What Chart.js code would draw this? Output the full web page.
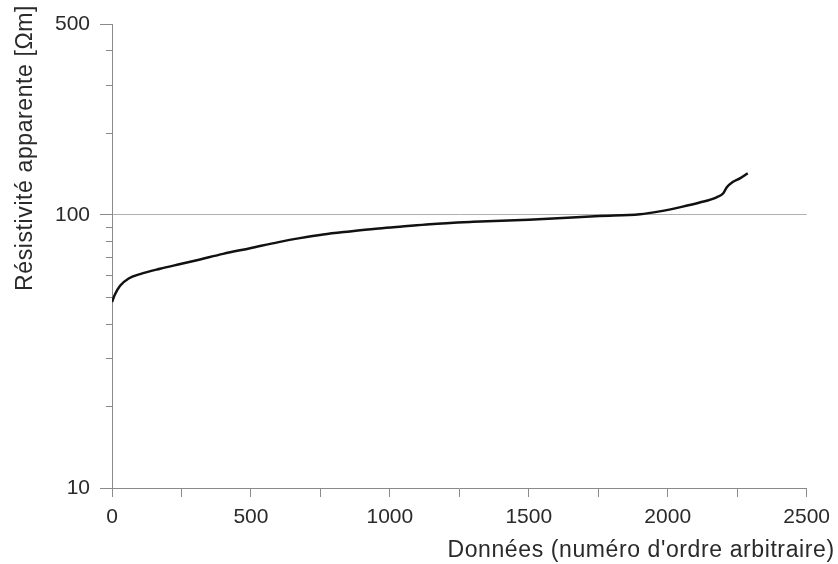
<!DOCTYPE html>
<html>
<head>
<meta charset="utf-8">
<script src="https://cdn.jsdelivr.net/npm/chart.js@4.4.1/dist/chart.umd.min.js"></script>
<style>
  html, body { margin: 0; padding: 0; background: #fff; }
  #wrap { width: 838px; height: 564px; }
</style>
</head>
<body>
<div id="wrap"><canvas id="resChart" width="838" height="564"></canvas></div>
<script>
// data (index, apparent resistivity in ohm-m)
const dataIndex = [0, 10, 29, 60, 101, 173, 250, 317, 400, 497, 600, 676, 760, 856, 950, 1036, 1144, 1300, 1500, 1754, 1900, 1971, 2050, 2115, 2176, 2200, 2212, 2234, 2260, 2288];
const resistivity = [48, 51, 55, 58.5, 60.7, 63.5, 66.2, 68.7, 72, 75.5, 79.5, 82.2, 84.8, 87, 89, 90.5, 92.5, 94.3, 96, 99, 100.5, 103, 107, 111, 116, 120, 126, 132, 136, 142];

const xTicks = [0, 250, 500, 750, 1000, 1250, 1500, 1750, 2000, 2250, 2500];
const xLabels = [0, 500, 1000, 1500, 2000, 2500];
const yTicks = [10, 20, 30, 40, 50, 60, 70, 80, 90, 100, 200, 300, 400, 500];
const yLabels = [10, 100, 500];

const xTitle = "Données (numéro d'ordre arbitraire)";
const yTitle = 'Résistivité apparente [Ωm]';

const fontFamily = "'Liberation Sans', Arial, sans-serif";
const textColor = '#2a2a2a';
const axisColor = '#8a8a8a';

// short minor ticks on the y axis + axis titles
const decorPlugin = {
    id: 'decor',
    afterDraw(chart) {
        const ctx = chart.ctx;
        const y = chart.scales.y;
        const area = chart.chartArea;
        ctx.save();
        ctx.strokeStyle = axisColor;
        ctx.lineWidth = 1;
        yTicks.forEach(v => {
            if (yLabels.includes(v)) return;
            const py = Math.round(y.getPixelForValue(v)) + 0.5;
            ctx.beginPath();
            ctx.moveTo(area.left - 6, py);
            ctx.lineTo(area.left, py);
            ctx.stroke();
        });

        ctx.fillStyle = textColor;
        ctx.font = '23px ' + fontFamily;
        ctx.letterSpacing = '0.6px';
        ctx.textAlign = 'right';
        ctx.textBaseline = 'alphabetic';
        ctx.fillText(xTitle, area.right + 28, 557);

        ctx.translate(32, area.top - 19);
        ctx.rotate(-Math.PI / 2);
        ctx.textAlign = 'right';
        ctx.fillText(yTitle, 0, 0);
        ctx.restore();
    }
};

const ctx = document.getElementById('resChart').getContext('2d');
new Chart(ctx, {
    type: 'line',
    data: {
        datasets: [{
            data: dataIndex.map((x, i) => ({ x: x, y: resistivity[i] })),
            borderColor: '#111',
            borderWidth: 2.5,
            pointRadius: 0,
            cubicInterpolationMode: 'monotone',
            fill: false
        }]
    },
    options: {
        responsive: false,
        animation: false,
        layout: { padding: { left: 0, right: 31, top: 24, bottom: 0 } },
        plugins: {
            legend: { display: false },
            tooltip: { enabled: false }
        },
        scales: {
            x: {
                type: 'linear',
                min: 0,
                max: 2500,
                afterBuildTicks: s => { s.ticks = xTicks.map(v => ({ value: v })); },
                afterFit: s => { s.height = 76; },
                border: { color: axisColor, width: 1 },
                grid: {
                    drawOnChartArea: false,
                    tickLength: 9,
                    tickColor: axisColor
                },
                ticks: {
                    padding: 8,
                    maxRotation: 0,
                    autoSkip: false,
                    color: textColor,
                    font: { family: fontFamily, size: 21 },
                    callback: v => xLabels.includes(v) ? String(v) : ''
                }
            },
            y: {
                type: 'logarithmic',
                min: 10,
                max: 500,
                afterBuildTicks: s => { s.ticks = yTicks.map(v => ({ value: v })); },
                afterFit: s => { s.width = 112; },
                border: { color: axisColor, width: 1 },
                grid: {
                    color: c => (c.tick && c.tick.value === 100) ? '#b0b0b0' : 'rgba(0,0,0,0)',
                    tickColor: c => (c.tick && yLabels.includes(c.tick.value)) ? axisColor : 'rgba(0,0,0,0)',
                    tickLength: 12
                },
                ticks: {
                    padding: 10,
                    autoSkip: false,
                    color: textColor,
                    font: { family: fontFamily, size: 21 },
                    callback: v => yLabels.includes(v) ? String(v) : ''
                }
            }
        }
    },
    plugins: [decorPlugin]
});
</script>
</body>
</html>
